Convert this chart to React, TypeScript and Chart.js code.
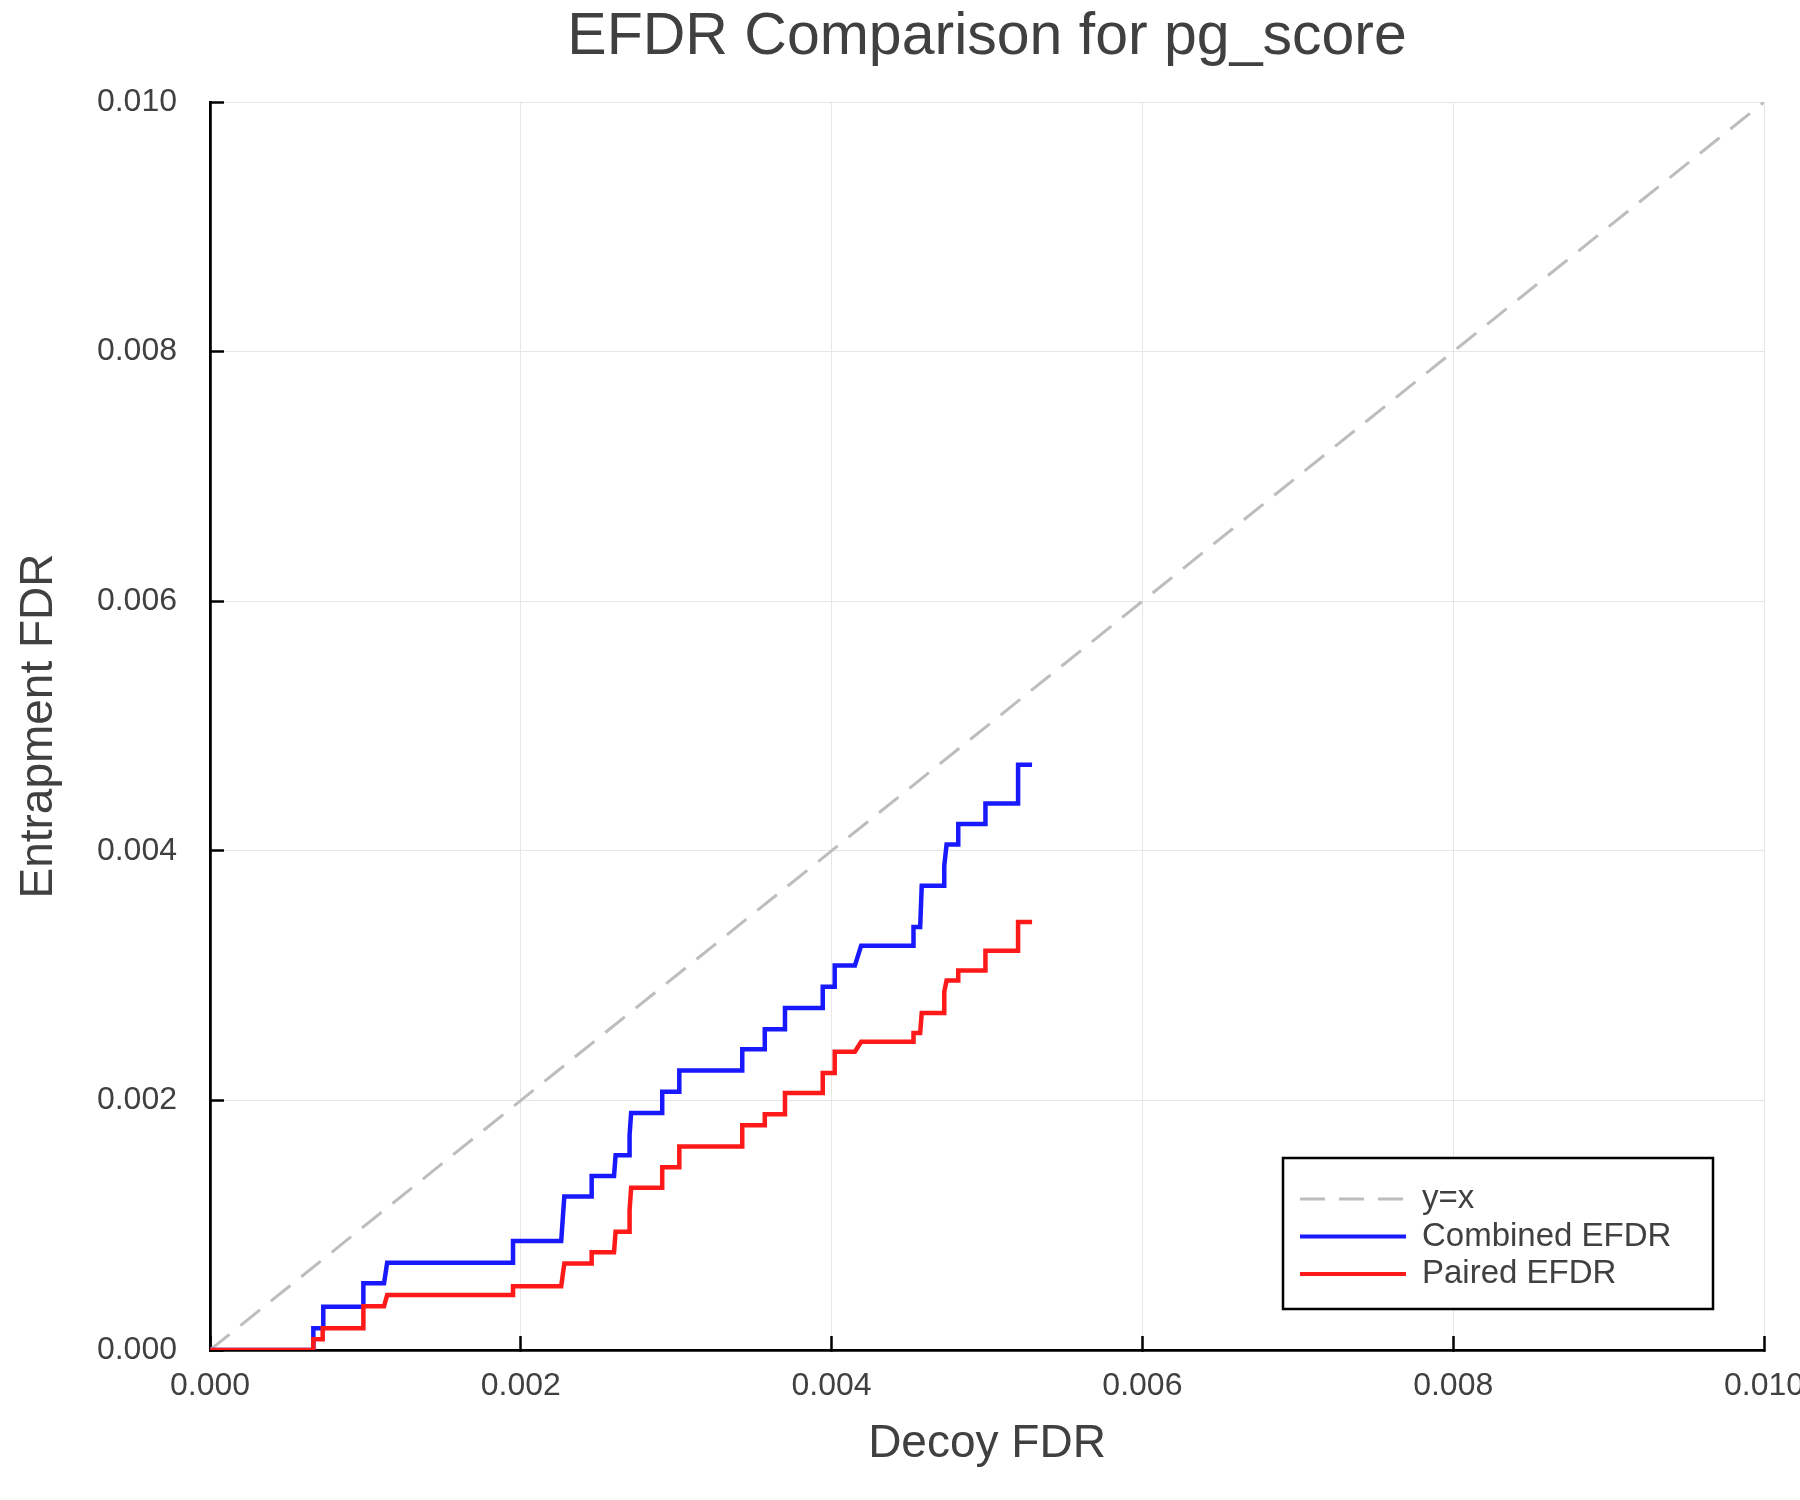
import React, { useEffect, useRef } from "react";
import { Chart, registerables } from "chart.js";

Chart.register(...registerables);

const FONT = "'Liberation Sans', Arial, Helvetica, sans-serif";
const TEXT_COLOR = "#404040";

const TITLE = "EFDR Comparison for pg_score";
const X_LABEL = "Decoy FDR";
const Y_LABEL = "Entrapment FDR";
const X_TICKS = [0, 0.002, 0.004, 0.006, 0.008, 0.01];
const Y_TICKS = [0, 0.002, 0.004, 0.006, 0.008, 0.01];
const SERIES_NAMES = ["y=x", "Combined EFDR", "Paired EFDR"];

const IDENTITY_X = [0, 0.01];
const IDENTITY_Y = [0, 0.01];

const COMBINED_X = [
  0, 0.000665, 0.000665, 0.000729, 0.000729, 0.000987, 0.000987, 0.00112, 0.00114, 0.00195,
  0.00195, 0.00226, 0.00228, 0.002456, 0.002456, 0.0026, 0.00261, 0.0027, 0.0027, 0.00271,
  0.00291, 0.00291, 0.00302, 0.00302, 0.003425, 0.003425, 0.00357, 0.00357, 0.0037, 0.0037,
  0.003943, 0.003943, 0.00402, 0.00402, 0.00415, 0.00419, 0.004527, 0.004527, 0.00457, 0.00458,
  0.004725, 0.004725, 0.00474, 0.004815, 0.004815, 0.00499, 0.00499, 0.0052, 0.0052, 0.00529,
];
const COMBINED_Y = [
  0, 0, 0.000174, 0.000174, 0.000347, 0.000347, 0.000534, 0.000534, 0.0007, 0.0007,
  0.000873, 0.000873, 0.00123, 0.00123, 0.001394, 0.001394, 0.00156, 0.00156, 0.00172, 0.0019,
  0.0019, 0.00207, 0.00207, 0.00224, 0.00224, 0.00241, 0.00241, 0.00257, 0.00257, 0.00274,
  0.00274, 0.00291, 0.00291, 0.00308, 0.00308, 0.00324, 0.00324, 0.00339, 0.00339, 0.00372,
  0.00372, 0.00388, 0.00405, 0.00405, 0.004215, 0.004215, 0.00438, 0.00438, 0.00469, 0.00469,
];

const PAIRED_X = [
  0, 0.000665, 0.000665, 0.000725, 0.000725, 0.000987, 0.000987, 0.00112, 0.00114, 0.00195,
  0.00195, 0.00226, 0.00228, 0.002456, 0.002456, 0.0026, 0.00261, 0.0027, 0.0027, 0.00271,
  0.00291, 0.00291, 0.00302, 0.00302, 0.003425, 0.003425, 0.00357, 0.00357, 0.0037, 0.0037,
  0.003943, 0.003943, 0.00402, 0.00402, 0.00415, 0.00419, 0.004527, 0.004527, 0.00457, 0.00458,
  0.004725, 0.004725, 0.00474, 0.004815, 0.004815, 0.00499, 0.00499, 0.0052, 0.0052, 0.00529,
];
const PAIRED_Y = [
  0, 0, 0.000086, 0.000086, 0.000174, 0.000174, 0.00035, 0.00035, 0.00044, 0.00044,
  0.00051, 0.00051, 0.000694, 0.000694, 0.000783, 0.000783, 0.000948, 0.000948, 0.00112, 0.0013,
  0.0013, 0.001464, 0.001464, 0.00163, 0.00163, 0.0018, 0.0018, 0.00189, 0.00189, 0.00206,
  0.00206, 0.00222, 0.00222, 0.00239, 0.00239, 0.00247, 0.00247, 0.00254, 0.00254, 0.0027,
  0.0027, 0.00287, 0.00296, 0.00296, 0.00304, 0.00304, 0.0032, 0.0032, 0.00343, 0.00343,
];

const toPoints = (xs: number[], ys: number[]) => xs.map((x, i) => ({ x, y: ys[i] }));

const legendBoxPlugin = {
  id: "legendBox",
  afterDatasetsDraw(chart: any) {
    const { ctx, chartArea } = chart;
    const right = chartArea.right - 51;
    const bottom = chartArea.bottom - 41;
    const w = 430;
    const h = 151;
    const left = right - w;
    const top = bottom - h;
    ctx.save();
    ctx.fillStyle = "#ffffff";
    ctx.fillRect(left, top, w, h);
    ctx.strokeStyle = "#000000";
    ctx.lineWidth = 2.5;
    ctx.setLineDash([]);
    ctx.strokeRect(left, top, w, h);
    chart.data.datasets.forEach((ds: any, i: number) => {
      const y = top + 41 + i * 37.5;
      ctx.strokeStyle = ds.borderColor;
      ctx.lineWidth = Math.min(ds.borderWidth, 4);
      ctx.setLineDash(ds.borderDash || []);
      ctx.beginPath();
      ctx.moveTo(left + 17, y);
      ctx.lineTo(left + 123, y);
      ctx.stroke();
      ctx.setLineDash([]);
      ctx.fillStyle = TEXT_COLOR;
      ctx.font = `33px ${FONT}`;
      ctx.textAlign = "left";
      ctx.textBaseline = "middle";
      ctx.fillText(ds.label, left + 139, y);
    });
    ctx.restore();
  },
};

export default function App() {
  const ref = useRef<HTMLCanvasElement | null>(null);

  useEffect(() => {
    if (!ref.current) return;
    const chart = new Chart(ref.current, {
      type: "scatter",
      data: {
        datasets: [
          {
            label: SERIES_NAMES[0],
            data: toPoints(IDENTITY_X, IDENTITY_Y),
            showLine: true,
            borderColor: "#bdbdbd",
            borderWidth: 3,
            borderDash: [25, 14],
            pointRadius: 0,
            order: 3,
          },
          {
            label: SERIES_NAMES[1],
            data: toPoints(COMBINED_X, COMBINED_Y),
            showLine: true,
            borderColor: "#1919ff",
            borderWidth: 4.5,
            pointRadius: 0,
            order: 2,
          },
          {
            label: SERIES_NAMES[2],
            data: toPoints(PAIRED_X, PAIRED_Y),
            showLine: true,
            borderColor: "#ff1919",
            borderWidth: 4.5,
            pointRadius: 0,
            order: 1,
          },
        ],
      },
      options: {
        animation: false,
        responsive: false,
        events: [],
        layout: { padding: { left: 0, top: 0, right: 36, bottom: 0 } },
        plugins: {
          legend: { display: false },
          tooltip: { enabled: false },
          title: {
            display: true,
            fullSize: false,
            text: TITLE,
            color: TEXT_COLOR,
            font: { family: FONT, size: 59, weight: "normal", lineHeight: 1.2 },
            padding: { top: 2, bottom: 29.2 },
          },
        },
        scales: {
          x: {
            type: "linear",
            min: 0,
            max: 0.01,
            afterBuildTicks: (s: any) => {
              s.ticks = X_TICKS.map((v) => ({ value: v }));
            },
            afterFit: (s: any) => {
              s.height = 150;
              s.paddingRight = 0;
            },
            ticks: {
              callback: (v: any) => Number(v).toFixed(3),
              color: TEXT_COLOR,
              font: { family: FONT, size: 32 },
              padding: 31,
              maxRotation: 0,
              autoSkip: false,
            },
            grid: {
              color: "#e6e6e6",
              lineWidth: 1,
              tickLength: -14,
              tickColor: "#000000",
              tickWidth: 2.5,
            },
            border: { display: true, color: "#000000", width: 2.8 },
            title: {
              display: true,
              text: X_LABEL,
              color: TEXT_COLOR,
              font: { family: FONT, size: 46, lineHeight: 1.2 },
              padding: { top: 0, bottom: 28.4 },
            },
          },
          y: {
            type: "linear",
            min: 0,
            max: 0.01,
            afterBuildTicks: (s: any) => {
              s.ticks = Y_TICKS.map((v) => ({ value: v }));
            },
            afterFit: (s: any) => {
              s.width = 210;
            },
            ticks: {
              callback: (v: any) => Number(v).toFixed(3),
              color: TEXT_COLOR,
              font: { family: FONT, size: 32 },
              padding: 47,
              autoSkip: false,
            },
            grid: {
              color: "#e6e6e6",
              lineWidth: 1,
              tickLength: -14,
              tickColor: "#000000",
              tickWidth: 2.5,
            },
            border: { display: true, color: "#000000", width: 2.8 },
            title: {
              display: true,
              text: Y_LABEL,
              color: TEXT_COLOR,
              font: { family: FONT, size: 46, lineHeight: 1.2 },
              padding: { top: 11.4, bottom: 0 },
            },
          },
        },
      },
      plugins: [legendBoxPlugin],
    } as any);
    return () => chart.destroy();
  }, []);

  return (
    <div
      style={{
        position: "absolute",
        left: 0,
        top: 0,
        width: 1800,
        height: 1500,
        overflow: "hidden",
        background: "#ffffff",
      }}
    >
      <canvas ref={ref} width={1800} height={1500} style={{ width: 1800, height: 1500, display: "block" }} />
    </div>
  );
}
